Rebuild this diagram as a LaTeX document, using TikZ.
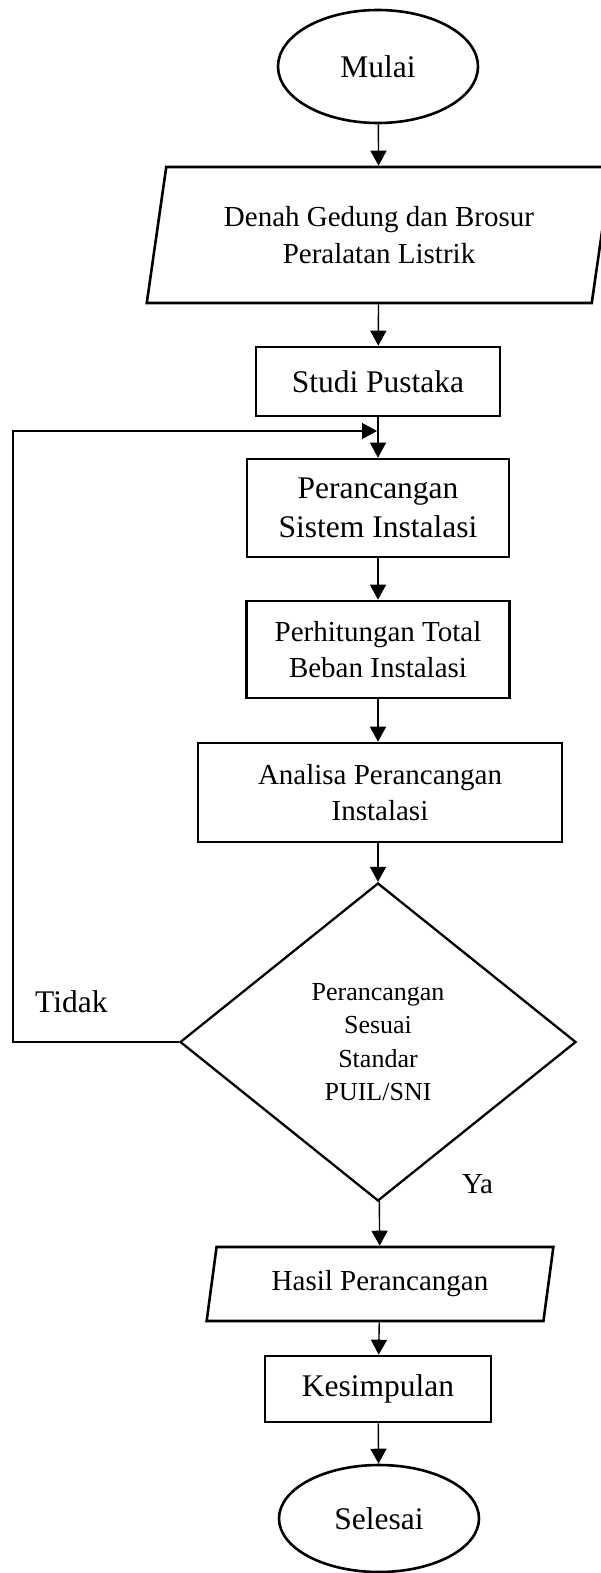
\documentclass[tikz,border=0pt]{standalone}
\usepackage{fontspec}
\setmainfont{Liberation Serif}
\usetikzlibrary{shapes.geometric,arrows.meta}

\begin{document}
\begin{tikzpicture}[x=1pt, y=-1pt,
   proses/.style={draw, rectangle, line width=2.6pt, inner sep=0pt, align=center},
   data/.style={draw, trapezium, trapezium left angle=76, trapezium right angle=104,
                trapezium stretches=true, line width=2.6pt, inner sep=0pt, align=center},
   terminal/.style={draw, ellipse, line width=2.6pt, inner sep=0pt, minimum width=200pt},
   keputusan/.style={draw, diamond, line width=2.3pt, inner sep=0pt, align=center},
   panah/.style={line width=1.4pt, -{Triangle[length=15pt, width=16pt]}},
   besar/.style={font=\fontsize{31.5}{39}\selectfont},
   sedang/.style={font=\fontsize{29}{36.5}\selectfont},
   kecil/.style={font=\fontsize{26}{33.3}\selectfont}]

\useasboundingbox (0,0) rectangle (601,1573);

\node[terminal, besar, minimum height=113pt] (mulai) at (378,66.5) {Mulai};
\node[data, sedang, minimum width=466pt, minimum height=136pt] (denah) at (379,235)
    {Denah Gedung dan Brosur\\ Peralatan Listrik};
\node[proses, besar, minimum width=244pt, minimum height=69pt] (studi) at (378,381.5) {Studi Pustaka};
\node[proses, besar, minimum width=262pt, minimum height=98pt] (rancang) at (378,508)
    {Perancangan\\ Sistem Instalasi};
\node[proses, sedang, minimum width=263pt, minimum height=97pt] (hitung) at (378,649.5)
    {Perhitungan Total\\ Beban Instalasi};
\node[proses, sedang, minimum width=364pt, minimum height=99pt] (analisa) at (380,792.5)
    {Analisa Perancangan\\ Instalasi};
\node[keputusan, kecil, minimum width=396pt, minimum height=318pt] (cek) at (378,1042)
    {Perancangan\\ Sesuai\\ Standar\\ PUIL/SNI};
\node[data, sedang, minimum width=347pt, minimum height=74pt] (hasil) at (380,1284) {Hasil Perancangan};
\node[proses, besar, minimum width=226pt, minimum height=66pt] (simpul) at (378,1389) {Kesimpulan};
\node[terminal, besar, minimum height=107pt] (selesai) at (379,1518.5) {Selesai};

\node[besar, anchor=base west, inner sep=0pt] (tidak) at (35,1012) {Tidak};
\node[sedang, anchor=base west, inner sep=0pt] (ya) at (462,1193) {Ya};

\coordinate (balik) at (13,431);
\coordinate (masuk) at (377,431);

\draw[panah] (mulai) -- (denah);
\draw[panah] (denah) -- (studi);
\draw[panah] (studi) -- (rancang);
\draw[panah] (rancang) -- (hitung);
\draw[panah] (hitung.south) -- (hitung.south |- analisa.north);
\draw[panah] (analisa.south -| cek.north) -- (cek.north);
\draw[panah] (cek) -- (hasil);
\draw[panah] (hasil) -- (simpul);
\draw[panah] (simpul) -- (selesai);
\draw[panah] (cek.west) -| (balik) -- (masuk);

\end{tikzpicture}
\end{document}
